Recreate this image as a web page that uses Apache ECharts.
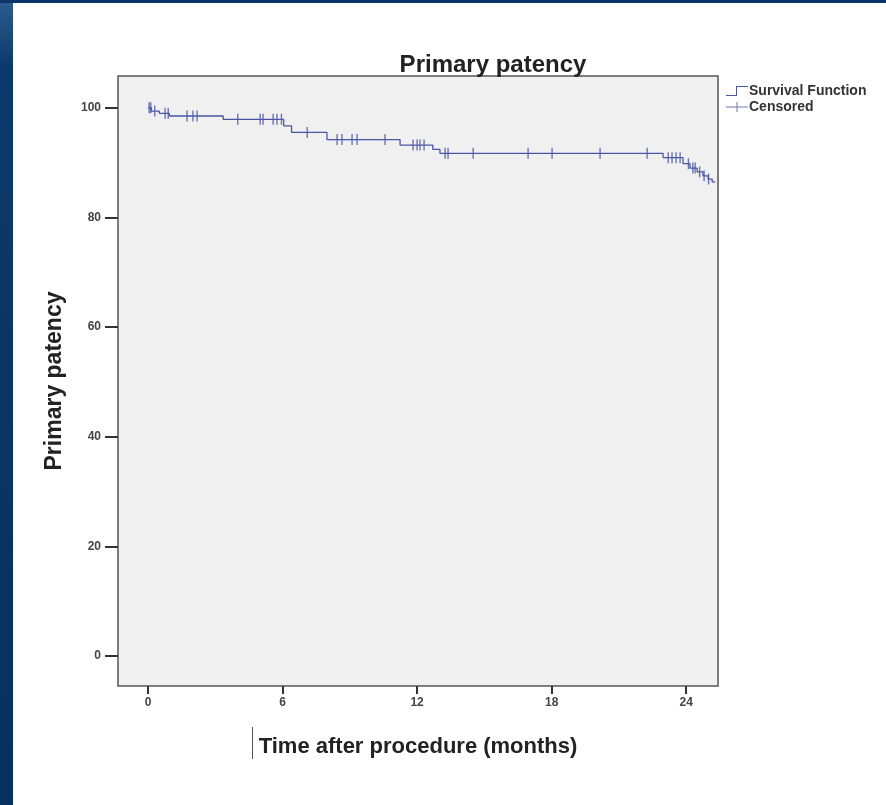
<!DOCTYPE html>
<html>
<head>
<meta charset="utf-8">
<title>Primary patency</title>
<script src="https://cdn.jsdelivr.net/npm/echarts@6/dist/echarts.min.js"></script>
<style>
  html, body { margin: 0; padding: 0; background: #fff; }
  #main { width: 886px; height: 805px; }
</style>
</head>
<body>
<div id="main"></div>
<script>
// Kaplan-Meier steps (months, %)
const stepTimes = [0, 0.15, 0.5, 0.95, 3.35, 6.05, 6.4, 7.98, 11.24, 12.7, 13.02, 22.97, 23.86, 24.17, 24.49, 24.75, 24.98, 25.16, 25.3];
const stepValues = [100, 99.4, 99.0, 98.5, 97.9, 96.7, 95.5, 94.2, 93.2, 92.4, 91.7, 90.9, 89.8, 89.0, 88.3, 87.6, 87.0, 86.5, 86.5];

// censored observations (months)
const censorTimes = [0.05, 0.12, 0.3, 0.76, 0.9, 1.74, 2.0, 2.19, 4.0, 5.0, 5.13, 5.58, 5.75, 5.95,
  7.1, 8.43, 8.65, 9.1, 9.32, 10.57, 11.82, 12.0, 12.13, 12.31, 13.25, 13.38, 14.5, 16.95,
  18.02, 20.16, 22.26, 23.2, 23.37, 23.55, 23.73, 24.1, 24.3, 24.4, 24.6, 24.8, 25.0];

const xTicks = [0, 6, 12, 18, 24];
const yTicks = [0, 20, 40, 60, 80, 100];

const lineColor = "#4a56a6";

// value of the step curve at time t
const survivalAt = (t) => {
  let v = stepValues[0];
  for (let i = 0; i < stepTimes.length; i++) {
    if (stepTimes[i] <= t) v = stepValues[i];
  }
  return v;
};

var myChart = echarts.init(document.getElementById("main"));

var option = {
  backgroundColor: "#fff",
  animation: false,
  textStyle: { fontFamily: "Liberation Sans, Arial, sans-serif" },
  title: {
    text: "Primary patency",
    left: 488,
    top: 48,
    textAlign: "center",
    textStyle: { fontSize: 24, fontWeight: "bold", color: "#222" },
  },
  legend: {
    orient: "vertical",
    left: 721,
    top: 79,
    itemGap: 2,
    itemWidth: 22,
    itemHeight: 10,
    textStyle: { fontSize: 14, fontWeight: "bold", color: "#333", padding: [0, 0, 0, -4] },
    data: [
      {
        name: "Survival Function",
        icon: "path://M0,9 L10,9 L10,0 L22,0 L22,1 L11,1 L11,10 L0,10 Z",
      },
      {
        name: "Censored",
        icon: "path://M0,4.5 L22,4.5 L22,5.5 L0,5.5 Z M10.5,0 L11.5,0 L11.5,10 L10.5,10 Z",
      },
    ],
  },
  grid: {
    left: 118,
    right: 168,
    top: 76,
    bottom: 119,
    show: true,
    backgroundColor: "#f0f0f0",
    borderColor: "#555",
    borderWidth: 1.5,
  },
  xAxis: {
    type: "value",
    min: -1.34,
    max: 25.42,
    name: "Time after procedure (months)",
    nameLocation: "middle",
    nameGap: 50,
    nameTextStyle: { fontSize: 22, fontWeight: "bold", color: "#222" },
    axisLine: { show: false, onZero: false },
    splitLine: { show: false },
    axisTick: {
      show: true,
      customValues: xTicks,
      length: 8,
      lineStyle: { color: "#333", width: 2 },
    },
    axisLabel: {
      customValues: xTicks,
      margin: 11,
      fontSize: 12,
      fontWeight: "bold",
      color: "#444",
    },
  },
  yAxis: {
    type: "value",
    min: -5.47,
    max: 105.8,
    name: "Primary patency",
    nameLocation: "middle",
    nameGap: 52,
    nameTextStyle: { fontSize: 23, fontWeight: "bold", color: "#222" },
    axisLine: { show: false, onZero: false },
    splitLine: { show: false },
    axisTick: {
      show: true,
      customValues: yTicks,
      length: 13,
      lineStyle: { color: "#333", width: 2 },
    },
    axisLabel: {
      customValues: yTicks,
      margin: 17,
      fontSize: 12,
      fontWeight: "bold",
      color: "#444",
    },
  },
  graphic: [
    // slide background strips
    {
      type: "rect",
      left: 0, top: 0,
      shape: { width: 13, height: 805 },
      style: {
        fill: new echarts.graphic.LinearGradient(0, 0, 0, 1, [
          { offset: 0, color: "#2d5d8e" },
          { offset: 0.08, color: "#0d3a6c" },
          { offset: 1, color: "#05305f" },
        ]),
      },
      silent: true,
    },
    {
      type: "rect",
      left: 0, top: 0,
      shape: { width: 886, height: 3 },
      style: { fill: "#0b3566" },
      silent: true,
    },
    // cursor mark before the x-axis title
    {
      type: "rect",
      left: 252, top: 727,
      shape: { width: 1, height: 32 },
      style: { fill: "#555" },
      silent: true,
    },
  ],
  series: [
    {
      name: "Survival Function",
      type: "line",
      step: "end",
      symbol: "none",
      lineStyle: { color: lineColor, width: 1.3 },
      itemStyle: { color: lineColor },
      data: stepTimes.map((t, i) => [t, stepValues[i]]),
    },
    {
      name: "Censored",
      type: "scatter",
      symbol: "rect",
      symbolSize: [1.4, 11],
      itemStyle: { color: lineColor },
      data: censorTimes.map((t) => [t, survivalAt(t)]),
    },
  ],
};

myChart.setOption(option);
</script>
</body>
</html>
